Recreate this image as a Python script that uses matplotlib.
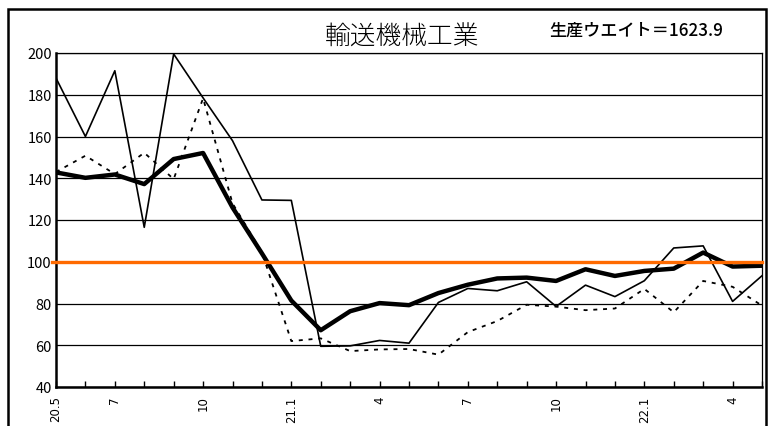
import matplotlib.pyplot as plt
from matplotlib.patches import Rectangle

plt.rcParams['font.family'] = ['Noto Sans CJK JP', 'DejaVu Sans']

# 20.5 〜 22.5 の月次
tsuki = ["20.5", "6", "7", "8", "9", "10", "11", "12", "21.1", "2", "3", "4", "5",
         "6", "7", "8", "9", "10", "11", "12", "22.1", "2", "3", "4", "5"]

seisan = [188, 160, 191.5, 116.5, 199.5, 178.5, 158, 129.6, 129.4, 59.5, 59.7, 62.3,
          61, 80.5, 87.2, 86.1, 90.4, 78.6, 88.8, 83.3, 90.9, 106.6, 107.6, 81, 93.3]
shukka = [142.8, 140.2, 141.8, 137.2, 149.2, 152.1, 126, 104, 81.4, 67.2, 76.3, 80.2,
          79.2, 85, 89, 92, 92.4, 90.8, 96.4, 93.2, 95.6, 96.7, 104.4, 97.7, 98.1]
zaiko = [143, 150.8, 142, 152.2, 139.6, 178.3, 128, 104.5, 62, 63.3, 57.2, 58, 58.2,
         55.5, 66.3, 71.6, 79.4, 78.5, 76.8, 77.6, 87, 75.8, 90.8, 88, 79]
kijun = 100

x = list(range(len(tsuki)))
xlabels = []
for i, t in enumerate(tsuki):
    if i == 0 or t in ("7", "10", "22.1", "21.1", "4"):
        xlabels.append(t)
    else:
        xlabels.append("")

fig = plt.figure(figsize=(7.76, 4.27), dpi=100)
ax = fig.add_axes([56 / 776, 1 - 388 / 427, 706 / 776, 334 / 427])

ax.plot(x, seisan, color="black", lw=1.2, zorder=3)
ax.plot(x, zaiko, color="black", lw=1.3, ls=(0, (2.2, 3.2)), zorder=3)
ax.plot(x, shukka, color="black", lw=3.2, zorder=4)
ax.plot([-0.12, len(tsuki) - 1], [kijun, kijun], color="#ff6a00", lw=2.4, zorder=5,
        clip_on=False)

ax.set_xlim(0, len(tsuki) - 1)
ax.set_ylim(40, 200)
ax.set_yticks(range(40, 201, 20))
ax.yaxis.grid(True, color="black", lw=0.9)
ax.set_axisbelow(True)
ax.tick_params(axis="y", length=0, labelsize=10.5, pad=3)
ax.set_xticks(x)
ax.set_xticklabels(xlabels, rotation=90, fontsize=8.5, family=['DejaVu Sans'])
ax.tick_params(axis="x", direction="in", length=4, width=1, pad=6)

for s in ["left", "bottom"]:
    ax.spines[s].set_linewidth(1.8)
for s in ["right", "top"]:
    ax.spines[s].set_linewidth(0.9)

fig.text(402 / 776, 1 - 37 / 427, "輸送機械工業", fontsize=18.5, ha="center", va="center",
         fontweight="light")
fig.text(549 / 776, 1 - 31 / 427, "生産ウエイト＝1623.9", fontsize=12.3, ha="left", va="center",
         fontweight="medium")

fig.patches.append(Rectangle((8 / 776, -0.1), 758 / 776, 1.1 - 10 / 427, transform=fig.transFigure,
                             fill=False, lw=1.8, edgecolor="black"))

fig.savefig("out.png", dpi=100)
